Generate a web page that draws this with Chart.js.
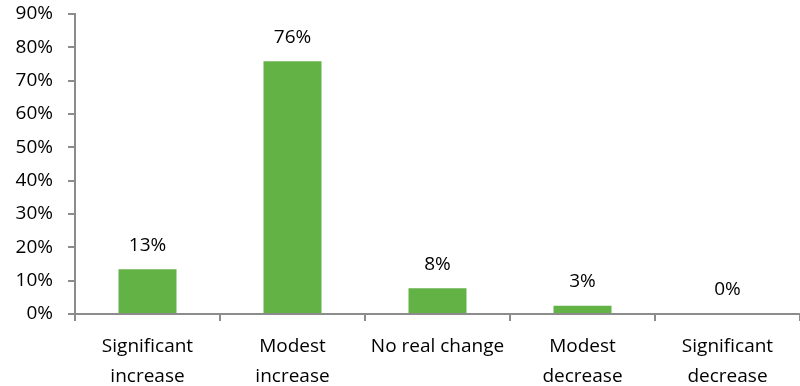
<!DOCTYPE html>
<html>
<head>
<meta charset="utf-8">
<script src="https://cdn.jsdelivr.net/npm/chart.js@4"></script>
<style>
  html, body { margin: 0; padding: 0; background: #fff; }
  #wrap { width: 800px; height: 386px; }
</style>
</head>
<body>
<div id="wrap"><canvas id="chart"></canvas></div>
<script>
const categories = [
    ['Significant', 'increase'],
    ['Modest', 'increase'],
    'No real change',
    ['Modest', 'decrease'],
    ['Significant', 'decrease']
];
const shares = [13.4, 75.8, 7.7, 2.5, 0];
const yTicks = [0, 10, 20, 30, 40, 50, 60, 70, 80, 90];

const axisColor = '#8c8c8c';
const textFont = { family: '"Open Sans", sans-serif', size: 19 };

// values drawn above each bar
const barLabels = {
    id: 'barLabels',
    afterDatasetsDraw(chart) {
        const ctx = chart.ctx;
        const meta = chart.getDatasetMeta(0);
        ctx.save();
        ctx.font = '19px "Open Sans", sans-serif';
        ctx.fillStyle = '#000';
        ctx.textAlign = 'center';
        ctx.textBaseline = 'middle';
        meta.data.forEach((bar, i) => {
            ctx.fillText(Math.round(shares[i]) + '%', bar.x, bar.y - 24);
        });
        ctx.restore();
    }
};

const ctx = document.getElementById('chart').getContext('2d');
new Chart(ctx, {
    type: 'bar',
    data: {
        labels: categories,
        datasets: [{
            data: shares,
            backgroundColor: '#62b246',
            borderWidth: 0,
            barPercentage: 0.8,
            categoryPercentage: 0.5
        }]
    },
    options: {
        responsive: true,
        maintainAspectRatio: false,
        animation: false,
        layout: { padding: { top: 14, right: 0, left: 0, bottom: 0 } },
        plugins: {
            legend: { display: false },
            tooltip: { enabled: false }
        },
        scales: {
            x: {
                grid: {
                    drawOnChartArea: false,
                    color: axisColor,
                    tickLength: 7,
                    lineWidth: 2
                },
                border: { color: axisColor, width: 2 },
                ticks: {
                    color: '#000',
                    font: { ...textFont, lineHeight: 1.6 },
                    padding: 10,
                    maxRotation: 0
                },
                afterFit(scale) {
                    scale.height = 72;
                    scale.paddingTop = 0;
                    scale.paddingBottom = 0;
                }
            },
            y: {
                min: 0,
                max: 90,
                afterBuildTicks(scale) {
                    scale.ticks = yTicks.map(v => ({ value: v }));
                },
                grid: {
                    drawOnChartArea: false,
                    color: axisColor,
                    tickLength: 7,
                    lineWidth: 2
                },
                border: { color: axisColor, width: 2 },
                ticks: {
                    color: '#000',
                    font: textFont,
                    padding: 15,
                    callback: v => v + '%'
                },
                afterFit(scale) {
                    scale.width = 75;
                    scale.paddingTop = 0;
                    scale.paddingBottom = 0;
                }
            }
        }
    },
    plugins: [barLabels]
});
</script>
</body>
</html>
